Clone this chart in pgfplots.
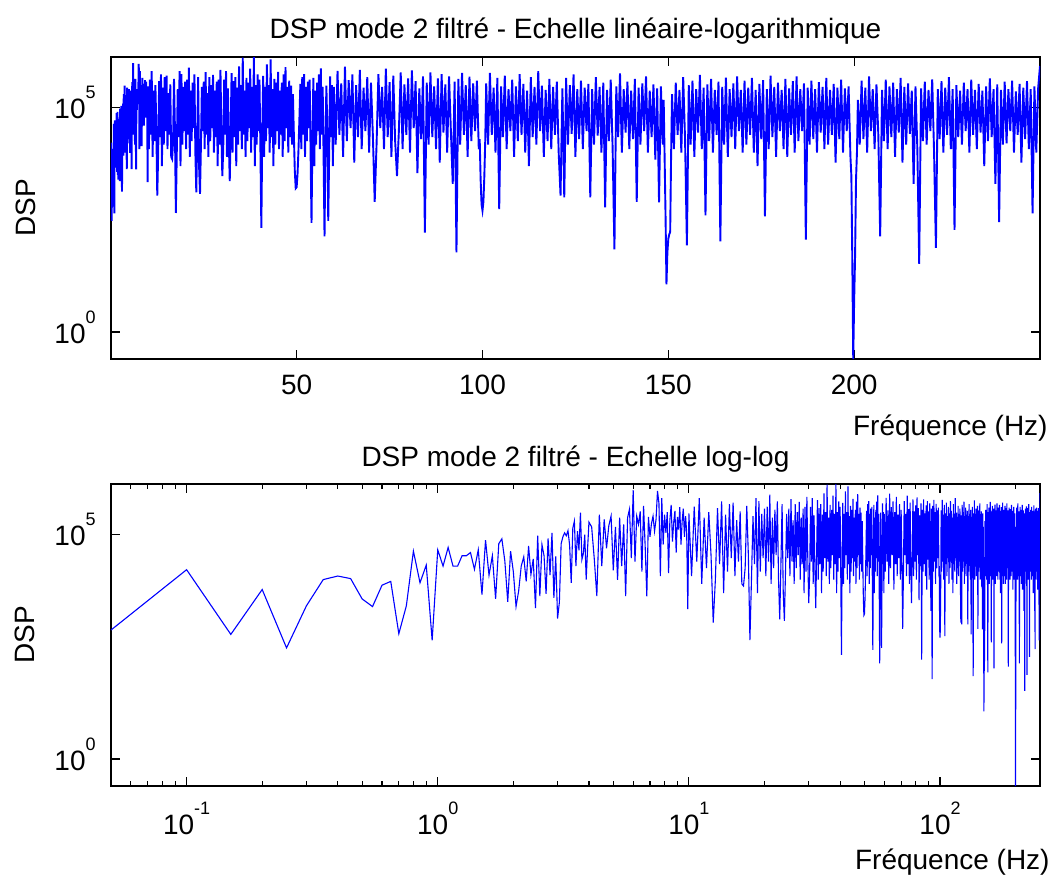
\documentclass[border=0pt]{standalone}
\usepackage{fontspec}
\setmainfont{Liberation Sans}
\usepackage{pgfplots}
\pgfplotsset{compat=1.18}
\usepackage{pgfplotstable}
\newcommand\sups[1]{\raisebox{10pt}{\fontsize{9}{9}\selectfont #1}}
\definecolor{mblue}{RGB}{0,0,255}

\pgfplotstableread{
f p
0.05 750
0.10 1.66e4
0.15 600
0.20 6000
0.25 300
0.30 2600
0.35 1.0e4
0.40 1.2e4
0.45 1.05e4
0.50 3700
0.55 2500
0.60 7500
0.65 9100
0.70 620
0.75 2600
0.80 4.3e4
0.85 8500
0.90 2.1e4
0.95 440
1.00 4.6e4
1.05 2.0e4
1.10 5.2e4
1.15 2.0e4
1.20 2.0e4
1.25 3.4e4
1.30 3.4e4
1.35 4.0e4
1.40 1.7e4
1.45 4.6e4
1.50 4600
1.55 7.6e4
1.60 1.25e4
1.65 3.4e4
1.70 3700
1.75 6.3e4
1.80 8.1e4
1.85 2.6e4
1.90 3200
1.95 4.3e4
2.00 1.5e4
2.05 2500
2.10 5600
2.15 2.0e4
2.20 3.2e4
2.25 9100
2.30 5.6e4
2.35 1.3e4
2.40 2.9e4
2.45 2300
2.50 9.5e4
2.55 4300
2.60 6.0e4
2.65 3.4e4
2.70 4800
2.75 8.3e4
2.80 1.26e4
2.85 1.1e5
2.90 3900
2.95 3.3e4
3.00 1350
3.05 3100
3.10 6.3e4
3.15 9e4
3.20 1.1e5
3.25 9.5e4
3.30 1.23e5
3.35 5.9e4
3.40 8500
3.45 1.4e5
3.50 2.0e5
3.55 2.0e4
3.60 1.2e5
3.65 4.5e4
3.70 3.1e5
3.75 2.8e4
3.80 3.8e4
3.85 1.0e5
3.90 1.0e4
3.95 4.8e4
4.00 1.9e5
4.1 1.5e5
4.2 2.9e4
4.3 4300
4.4 2.8e5
4.5 2.0e4
4.6 2.2e5
4.7 5.0e4
4.8 1.6e5
4.9 2.6e5
5.0 1.6e4
5.1 1.5e5
5.2 9800
5.3 2.4e5
5.4 2.0e4
5.5 1.7e5
5.6 4300
5.7 2.4e5
5.8 3.7e5
5.9 3.0e4
6.0 9.8e5
6.1 2.5e4
6.2 2.6e5
6.3 1.7e5
6.4 3.3e5
6.5 1.5e4
6.6 4.4e5
6.7 5.2e4
6.8 4200
6.9 2.5e5
7.0 9.0e4
7.1 1.8e5
7.2 2.6e5
7.3 1.2e5
7.4 2.2e5
7.5 9.5e5
7.6 5.0e5
7.7 1.2e4
7.8 6.5e5
7.9 6.0e4
8.0 2.8e5
8.1 1.1e5
8.2 3.2e5
8.3 1.4e4
8.4 2.1e5
8.5 4.6e5
8.6 7.0e4
8.7 1.9e5
8.8 3.4e5
8.9 4.0e4
9.0 2.5e5
9.1 1.3e5
9.2 4.1e5
9.3 6.0e4
9.4 2.0e5
9.5 3.8e5
9.6 9.0e4
9.7 2.6e5
9.8 1.1e5
9.9 2200
10.0 3.0e5
10.25 1.2e4
10.5 4.2e5
10.75 2.5e4
11.0 6.5e5
11.25 8.0e3
11.5 2.4e5
11.75 1.8e4
12.0 3.2e5
12.25 3.5e4
12.5 1.1e3
12.75 1.0e4
13.0 3.9e5
13.25 2.2e4
13.5 5.5e5
13.75 5.0e3
14.0 2.8e5
14.25 1.5e4
14.5 4.8e5
14.75 3.0e4
15.0 5.2e5
15.25 1.2e4
15.5 2.1e5
15.75 2.5e4
16.0 3.3e5
16.25 8.0e3
16.5 7.2e3
16.75 1.8e4
17.0 4.4e5
17.25 3.5e4
17.5 450
17.75 1.0e4
18.0 2.6e5
18.25 2.2e4
18.5 6.5e5
18.75 5.0e3
19.0 5.6e5
19.25 1.5e4
19.5 2.9e5
19.75 3.0e4
20.0 3.8e5
20.25 1.2e4
20.5 4.2e5
20.75 2.5e4
21.0 7.8e5
21.25 8.0e3
21.5 2.4e5
21.75 1.8e4
22.0 3.6e5
22.25 3.5e4
22.5 5.5e5
22.75 1.0e4
23.0 1.3e3
23.25 2.2e4
23.5 4.8e5
23.75 5.0e3
24.0 1.2e3
24.25 1.5e4
24.5 2.9e5
24.75 3.0e4
25.0 3.8e5
25.25 1.2e4
25.5 6.2e5
25.75 2.5e4
26.0 2.1e5
26.25 8.0e3
26.5 4.8e5
26.75 1.8e4
27.0 3.2e5
27.25 3.5e4
27.5 5.4e5
27.75 1.0e4
28.0 2.4e5
28.25 2.2e4
28.5 3.8e5
28.75 5.0e3
29.0 4.2e5
29.25 1.5e4
29.5 7.0e5
29.75 3.0e4
30.0 3.0e3
30.25 1.2e4
30.5 4.2e5
30.75 2.5e4
31.0 6.5e5
31.25 8.0e3
31.5 2.7e5
31.75 1.8e4
32.0 2.3e3
32.25 3.5e4
32.5 5.9e5
32.75 1.0e4
33.0 3.9e5
33.25 2.2e4
33.5 4.8e5
33.75 5.0e3
34.0 2.8e5
34.25 1.5e4
34.5 8.3e5
34.75 3.0e4
35.0 3.2e5
35.25 1.2e4
35.5 1.3e6
35.75 2.5e4
36.0 2.4e5
36.25 8.0e3
36.5 4.6e5
36.75 1.8e4
37.0 3.6e5
37.25 3.5e4
37.5 7.4e5
37.75 1.0e4
38.0 2.9e5
38.25 2.2e4
38.5 1.35e6
38.75 5.0e3
39.0 3.2e5
39.25 1.5e4
39.5 5.5e5
39.75 3.0e4
40.0 4.2e5
40.25 1.2e4
40.5 210
40.75 2.5e4
41.0 5.1e5
41.25 8.0e3
41.5 2.9e5
41.75 1.8e4
42.0 9.2e5
42.25 3.5e4
42.5 3.2e5
42.75 1.0e4
43.0 1.2e6
43.25 2.2e4
43.5 2.6e5
43.75 5.0e3
44.0 4.4e5
44.25 1.5e4
44.5 3.6e5
44.75 3.0e4
45.0 6.3e5
45.25 1.2e4
45.5 2.4e5
45.75 2.5e4
46.0 3.6e5
46.25 8.0e3
46.5 5.5e5
46.75 1.8e4
47.0 8.0e5
47.25 3.5e4
47.5 2.9e5
47.75 1.0e4
48.0 4.0e5
48.25 2.2e4
48.5 3.1e5
48.75 1.5e4
49.0 2.0e5
49.25 2.5e4
49.5 4.0e3
49.75 1.6e3
50.0 1.7e3
50.25 3.5e3
50.5 1.2e4
50.75 6.0e4
51.0 3.4e5
51.25 1.2e4
51.5 4.8e5
51.75 2.5e4
52.0 5.6e5
52.25 8.0e3
52.5 2.9e5
52.75 1.8e4
53.0 3.8e5
53.25 3.5e4
53.5 4.2e5
53.75 1.0e4
54.0 270
54.25 2.2e4
54.5 4.6e5
54.75 5.0e3
55.0 2.4e5
55.25 1.5e4
55.5 3.6e5
55.75 3.0e4
56.0 5.5e5
56.25 1.2e4
56.5 7.5e5
56.75 2.5e4
57.0 2.9e5
57.25 8.0e3
57.5 135
57.75 1.8e4
58.0 3.1e5
58.25 3.5e4
58.5 300
58.75 1.0e4
59.0 5.0e5
59.25 2.2e4
59.5 3.2e5
59.75 5.0e3
60.0 2.9e5
60.5 1.5e4
61.0 6.6e5
61.5 2.5e4
62.0 3.5e5
62.5 8.0e3
63.0 8.2e5
63.5 1.8e4
64.0 4.1e5
64.5 3.5e4
65.0 5.5e5
65.5 6.0e3
66.0 3.2e5
66.5 2.2e4
67.0 7.0e5
67.5 1.2e4
68.0 2.8e5
68.5 3.0e4
69.0 4.8e5
69.5 1.0e4
70.0 3.6e5
70.5 2.5e4
71.0 800
71.5 1.5e4
72.0 5.6e5
72.5 3.5e4
73.0 2.9e5
73.5 1.2e4
74.0 7.4e5
74.5 2.2e4
75.0 3.7e5
75.5 8.0e3
76.0 5.2e5
76.5 1.8e4
77.0 3.0e3
77.5 3.0e4
78.0 6.1e5
78.5 1.2e4
79.0 3.3e5
79.5 2.5e4
80.0 4.5e5
80.5 1.0e4
81.0 6.8e5
81.5 3.5e4
82.0 3.9e5
82.5 3.5e3
83.0 2.7e5
83.5 2.0e4
84.0 5.0e5
84.5 165
85.0 3.6e5
85.5 1.5e4
86.0 6.1e5
86.5 2.2e4
87.0 3.0e5
87.5 1.2e4
88.0 4.5e5
88.5 6.0e3
89.0 5.6e5
89.5 2.8e4
90.0 3.3e5
90.5 1.0e4
91.0 5.0e5
91.5 3.0e4
92.0 2.0e3
92.5 3.8e5
93.0 60
93.5 4.4e5
94.0 1.5e4
94.5 6.0e5
95.0 2.5e4
95.5 3.2e5
96.0 8.0e3
96.5 4.9e5
97.0 1.8e4
97.5 3.5e5
98.0 3.0e4
98.5 4.0e5
99.0 1.2e4
99.25 2.0e4
99.5 2.5e3
99.75 700
100.0 510
100.25 800
100.5 3.0e3
100.75 2.0e4
101.0 3.5e5
101.5 1.5e4
102.0 6.0e5
102.5 2.5e4
103.0 2.8e5
103.5 1.0e4
104.0 4.6e5
104.5 550
105.0 3.0e5
105.5 2.2e4
106.0 5.2e5
106.5 1.2e4
107.0 2.6e5
107.5 3.0e4
108.0 4.2e5
108.5 8.0e3
109.0 3.0e5
109.5 1.8e4
110.0 5.6e5
110.5 2.5e4
111.0 3.4e5
111.5 1.0e4
112.0 2.4e5
112.5 5.0e3
113.0 4.8e5
113.5 2.2e4
114.0 2.9e5
114.5 1.5e4
115.0 6.5e5
115.5 3.0e4
116.0 3.1e5
116.5 8.0e3
117.0 2.5e5
117.5 1.8e4
118.0 4.4e5
118.5 1.2e4
119.0 2.9e5
119.5 2.5e4
120.0 3.8e5
120.5 1.0e4
121.0 1.1e3
121.5 2.7e5
122.0 1.0e3
122.5 4.6e5
123.0 1.5e4
123.5 3.2e5
124.0 2.6e4
124.5 5.5e5
125.0 8.0e3
125.5 2.6e5
126.0 2.0e4
126.5 4.0e5
127.0 1.2e4
127.5 2.8e5
128.0 3.0e4
128.5 3.4e5
129.0 1.0e3
129.5 2.6e5
130.0 1.5e4
130.5 4.8e5
131.0 2.4e4
131.5 2.9e5
132.0 1.0e4
132.5 3.6e5
133.0 600
133.5 2.5e5
134.0 1.8e4
134.5 4.2e5
135.0 1.4e4
135.5 70
136.0 3.0e5
136.5 2.2e4
137.0 5.8e5
137.5 1.0e4
138.0 2.6e5
138.5 2.8e4
139.0 3.8e5
139.5 1.2e4
140.0 2.4e5
140.5 2.0e4
141.0 4.4e5
141.5 800
142.0 2.8e5
142.5 1.5e4
143.0 3.5e5
143.5 3.0e4
144.0 5.0e5
144.5 1.0e4
145.0 2.4e5
145.5 2.2e4
146.0 3.3e5
146.5 7.0e3
147.0 2.7e5
147.5 780
148.0 3.0e5
148.5 1.5e4
148.75 1.5e5
149.0 8.0e3
149.25 400
149.5 11.5
149.75 60
150.0 120
150.25 150
150.5 170
150.75 9.0e3
151.0 2.0e5
151.5 1.2e4
152.0 3.6e5
152.5 2.5e4
153.0 2.5e5
153.5 1.0e4
154.0 4.8e5
154.5 2.0e4
155.0 85
155.5 3.2e5
156.0 1.5e4
156.5 4.0e5
157.0 8.0e3
157.5 2.6e5
158.0 2.8e4
158.5 5.4e5
159.0 1.2e4
159.5 2.8e5
160.0 400
160.5 3.3e5
161.0 1.8e4
161.5 4.4e5
162.0 1.0e4
162.5 2.5e5
163.0 2.5e4
163.5 3.8e5
164.0 105
164.5 2.9e5
165.0 1.5e4
165.5 4.7e5
166.0 8.0e3
166.5 2.6e5
167.0 2.2e4
167.5 3.5e5
168.0 1.2e4
168.5 5.0e5
169.0 3.0e4
169.5 2.5e5
170.0 1.0e4
170.5 4.0e5
171.0 1.5e4
171.5 2.8e5
172.0 2.5e4
172.5 4.6e5
173.0 1.0e4
173.5 2.5e5
174.0 5.0e3
174.5 3.4e5
175.0 2.0e4
175.5 4.1e5
176.0 380
176.5 2.6e5
177.0 1.2e4
177.5 5.2e5
178.0 2.2e4
178.5 2.9e5
179.0 8.0e3
179.5 3.6e5
180.0 3.0e4
180.5 2.5e5
181.0 1.2e4
181.5 4.4e5
182.0 8.0e3
182.5 2.7e5
183.0 2.5e4
183.5 3.9e5
184.0 1.0e4
184.5 5.0e5
185.0 1.8e4
185.5 2.6e5
186.0 3.0e4
186.5 3.5e5
187.0 115
187.5 2.8e5
188.0 1.5e4
188.5 4.0e5
189.0 2.0e4
189.5 2.6e5
190.0 1.0e4
190.5 3.7e5
191.0 2.8e4
191.5 2.9e5
192.0 1.2e4
192.5 4.6e5
193.0 1.5e4
193.5 2.5e5
194.0 2.5e4
194.5 3.4e5
195.0 6.0e3
195.5 2.8e5
196.0 2.0e4
196.5 4.2e5
197.0 1.0e4
197.5 2.7e5
198.0 3.0e4
198.5 3.0e5
199.0 8.0e3
199.25 3.0e3
199.5 40
199.75 0.25
200.0 5
200.25 50
200.5 2.5e3
200.75 1.0e4
201.0 1.5e5
201.5 1.5e4
202.0 4.0e5
202.5 2.0e4
203.0 2.8e5
203.5 1.0e4
204.0 5.0e5
204.5 3.0e4
205.0 2.6e5
205.5 1.2e4
206.0 3.3e5
206.5 2.5e4
207.0 135
207.5 2.5e5
208.0 1.8e4
208.5 4.2e5
209.0 1.2e4
209.5 3.0e5
210.0 2.2e4
210.5 3.6e5
211.0 8.0e3
211.5 2.6e5
212.0 2.8e4
212.5 4.6e5
213.0 6.0e3
213.5 2.9e5
214.0 1.5e4
214.5 3.5e5
215.0 2.6e4
215.5 2.4e5
216.0 2.0e3
216.5 3.0e5
217.0 1.2e4
217.5 33
218.0 2.7e5
218.5 1.8e4
219.0 3.8e5
219.5 1.5e4
220.0 2.5e5
220.5 3.0e4
221.0 4.3e5
221.5 1.0e4
222.0 75
222.5 2.6e5
223.0 2.0e4
223.5 3.9e5
224.0 1.0e4
224.5 2.8e5
225.0 2.5e4
225.5 4.8e5
226.0 1.2e4
226.5 2.6e5
227.0 190
227.5 3.2e5
228.0 2.2e4
228.5 2.4e5
229.0 1.5e4
229.5 3.6e5
230.0 3.0e4
230.5 2.6e5
231.0 1.0e4
231.5 4.2e5
232.0 2.5e4
232.5 2.5e5
233.0 1.2e4
233.5 3.4e5
234.0 2.8e4
234.5 2.4e5
235.0 5.0e3
235.5 3.0e5
236.0 1.8e4
236.5 4.5e5
237.0 2.2e4
237.5 2.6e5
238.0 2.0e3
238.5 3.3e5
239.0 280
239.5 2.5e5
240.0 1.5e4
240.5 3.8e5
241.0 1.6e4
241.5 2.6e5
242.0 3.0e4
242.5 4.0e5
243.0 1.0e4
243.5 2.3e5
244.0 2.5e4
244.5 3.4e5
245.0 6.0e3
245.5 2.8e5
246.0 2.0e4
246.5 3.9e5
247.0 1.2e4
247.5 2.6e5
248.0 440
248.5 3.0e5
249.0 1.0e4
249.5 2.7e5
250.0 8.5e5
}\dsp

\begin{document}
\begin{tikzpicture}[font=\fontsize{14}{16.8}\selectfont]
\path[use as bounding box] (-55.5pt,28.5pt) rectangle (472.5pt,-409pt);
\begin{axis}[
  at={(0pt,0pt)}, anchor=north west,
  scale only axis, width=464.5pt, height=151pt,
  ymode=log, ymin=0.25, ymax=1.35e6,
  ytick={1,100000}, yticklabels={10\sups{0},10\sups{5}},
  minor y tick num=0,
  xmin=0.05, xmax=250,
  xtick={50,100,150,200}, xticklabels={50,100,150,200},
  axis line style={line width=0.9pt, black},
  major tick style={black, line width=0.6pt},
  major tick length=4.5pt, minor tick length=2.6pt,
  tick align=inside,
  xticklabel style={anchor=north, inner sep=0pt, yshift=-8pt},
  yticklabel style={anchor=base east, inner sep=0pt, xshift=-7.5pt, yshift=-5.5pt},
  title style={at={(axis description cs:0.5,1.023)}, anchor=base, inner sep=0pt},
  ylabel style={at={(axis description cs:-0.0818,0.5)}, anchor=base, inner sep=0pt},
  xlabel style={at={(axis description cs:1.0086,-0.252)}, anchor=base east, inner sep=0pt},
  ylabel={DSP},
  xlabel={Fréquence (Hz)},
  title={DSP mode 2 filtré - Echelle linéaire-logarithmique},
]
\addplot[mblue, line width=0.95pt] table[x=f, y=p] {\dsp};
\end{axis}
\begin{axis}[
  at={(0pt,-213.5pt)}, anchor=north west,
  scale only axis, width=464.5pt, height=151pt,
  ymode=log, ymin=0.25, ymax=1.35e6,
  ytick={1,100000}, yticklabels={10\sups{0},10\sups{5}},
  xmode=log, xmin=0.05, xmax=250,
  xtick={0.1,1,10,100}, xticklabels={10\sups{-1},10\sups{0},10\sups{1},10\sups{2}},
  minor xtick={0.05,0.06,0.07,0.08,0.09,0.2,0.3,0.4,0.5,0.6,0.7,0.8,0.9,2,3,4,5,6,7,8,9,20,30,40,50,60,70,80,90,200},
  axis line style={line width=0.9pt, black},
  major tick style={black, line width=0.6pt},
  minor tick style={black, line width=0.6pt},
  major tick length=4.5pt, minor tick length=2.6pt,
  tick align=inside,
  xticklabel style={anchor=north, inner sep=0pt, yshift=-8pt},
  yticklabel style={anchor=base east, inner sep=0pt, xshift=-7.5pt, yshift=-5.5pt},
  title style={at={(axis description cs:0.5,1.0199)}, anchor=base, inner sep=0pt},
  ylabel style={at={(axis description cs:-0.0818,0.5)}, anchor=base, inner sep=0pt},
  xlabel style={at={(axis description cs:1.0108,-0.278)}, anchor=base east, inner sep=0pt},
  ylabel={DSP},
  xlabel={Fréquence (Hz)},
  title={DSP mode 2 filtré - Echelle log-log},
]
\addplot[mblue, line width=0.55pt] table[x=f, y=p] {\dsp};
\end{axis}
\end{tikzpicture}
\end{document}
